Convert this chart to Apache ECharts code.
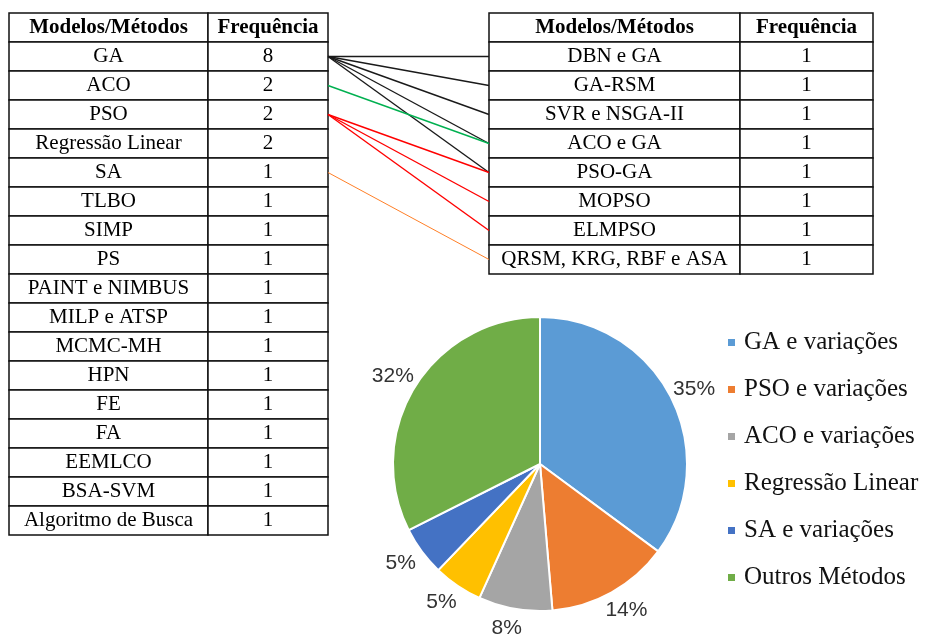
<!DOCTYPE html>
<html>
<head>
<meta charset="utf-8">
<script src="https://cdn.jsdelivr.net/npm/echarts@6/dist/echarts.min.js"></script>
<style>
  html, body { margin: 0; padding: 0; background: #fff; }
  #chart { width: 931px; height: 639px; }
</style>
</head>
<body>
<div id="chart"></div>
<script>
// cabeçalho das tabelas
var headers = ['Modelos/Métodos', 'Frequência']
// tabela da esquerda
var leftMethods = ['GA', 'ACO', 'PSO', 'Regressão Linear', 'SA', 'TLBO', 'SIMP', 'PS',
  'PAINT e NIMBUS', 'MILP e ATSP', 'MCMC-MH', 'HPN', 'FE', 'FA', 'EEMLCO', 'BSA-SVM',
  'Algoritmo de Busca']
var leftFreq = [8, 2, 2, 2, 1, 1, 1, 1, 1, 1, 1, 1, 1, 1, 1, 1, 1]
// tabela da direita
var rightMethods = ['DBN e GA', 'GA-RSM', 'SVR e NSGA-II', 'ACO e GA', 'PSO-GA', 'MOPSO',
  'ELMPSO', 'QRSM, KRG, RBF e ASA']
var rightFreq = [1, 1, 1, 1, 1, 1, 1, 1]
// ligações entre as tabelas
var linkFrom = ['GA', 'GA', 'GA', 'GA', 'GA', 'ACO', 'PSO', 'PSO', 'PSO', 'SA']
var linkTo = ['DBN e GA', 'GA-RSM', 'SVR e NSGA-II', 'ACO e GA', 'PSO-GA', 'ACO e GA',
  'PSO-GA', 'MOPSO', 'ELMPSO', 'QRSM, KRG, RBF e ASA']
var linkColors = ['#1a1a1a', '#1a1a1a', '#1a1a1a', '#1a1a1a', '#1a1a1a', '#00b050', '#ff0000', '#ff0000',
  '#ff0000', '#ff7f27']
// gráfico de pizza
var pieNames = ['GA e variações', 'PSO e variações', 'ACO e variações', 'Regressão Linear',
  'SA e variações', 'Outros Métodos']
var pieValues = [13, 5, 3, 2, 2, 12]
var pieColors = ['#5b9bd5', '#ed7d31', '#a5a5a5', '#ffc000', '#4472c4', '#70ad47']

// bordas das colunas (em px da grade)
var leftCols = [0, 199, 319]
var rightCols = [480, 731, 864]
var nRows = leftMethods.length + 1

var cells = []
function addTable (cols, methods, freq) {
  cells.push({ value: [cols[0], cols[1], 0], text: headers[0], bold: true })
  cells.push({ value: [cols[1], cols[2], 0], text: headers[1], bold: true })
  methods.forEach(function (m, i) {
    cells.push({ value: [cols[0], cols[1], i + 1], text: m, bold: false })
    cells.push({ value: [cols[1], cols[2], i + 1], text: String(freq[i]), bold: false })
  })
}
addTable(leftCols, leftMethods, leftFreq)
addTable(rightCols, rightMethods, rightFreq)

var linkData = linkFrom.map(function (f, i) {
  return {
    coords: [[leftCols[2], leftMethods.indexOf(f) + 1], [rightCols[0], rightMethods.indexOf(linkTo[i]) + 1]],
    lineStyle: { color: linkColors[i], width: linkColors[i] === '#ff7f27' ? 1 : 1.4, opacity: 1 }
  }
})

var total = pieValues.reduce(function (a, b) { return a + b }, 0)
var rowIdx = []
for (var r = 0; r < nRows; r++) rowIdx.push(r)

var myChart = echarts.init(document.getElementById('chart'))
myChart.setOption({
  backgroundColor: '#fff',
  animation: false,
  color: pieColors,
  grid: { left: 9, top: 13, width: 864, height: 522 },
  xAxis: { type: 'value', min: 0, max: 864, show: false },
  yAxis: { type: 'category', data: rowIdx, inverse: true, show: false },
  legend: {
    orient: 'vertical',
    left: 721,
    top: 325,
    icon: 'rect',
    itemWidth: 9,
    itemHeight: 9,
    itemGap: 22,
    textStyle: { fontFamily: 'Liberation Serif', fontSize: 25, lineHeight: 24, color: '#111', padding: [0, 0, 0, 3] },
    data: pieNames
  },
  series: [
    {
      type: 'custom',
      coordinateSystem: 'cartesian2d',
      data: cells.map(function (c) { return c.value }),
      renderItem: function (params, api) {
        var c = cells[params.dataIndex]
        var p0 = api.coord([api.value(0), api.value(2)])
        var p1 = api.coord([api.value(1), api.value(2)])
        var h = api.size([0, 1])[1]
        return {
          type: 'rect',
          shape: { x: p0[0], y: p0[1] - h / 2, width: p1[0] - p0[0], height: h },
          style: { fill: '#fff', stroke: '#111', lineWidth: 1.5 },
          textContent: {
            style: {
              text: c.text,
              fontFamily: 'Liberation Serif',
              fontSize: 21,
              fontWeight: c.bold ? 'bold' : 'normal',
              fill: '#000'
            }
          },
          textConfig: { position: 'inside' }
        }
      }
    },
    {
      type: 'lines',
      coordinateSystem: 'cartesian2d',
      polyline: false,
      symbol: 'none',
      lineStyle: { opacity: 1 },
      data: linkData
    },
    {
      type: 'pie',
      center: [540, 464],
      radius: 147,
      startAngle: 90,
      avoidLabelOverlap: false,
      itemStyle: { borderColor: '#fff', borderWidth: 2 },
      label: {
        position: 'outside',
        formatter: function (p) { return Math.round(p.value / total * 100) + '%' },
        fontFamily: 'Liberation Sans',
        fontSize: 21,
        color: '#333'
      },
      labelLine: { show: false, length: 20, length2: 0 },
      labelLayout: { align: 'center', verticalAlign: 'middle' },
      data: pieNames.map(function (n, i) { return { name: n, value: pieValues[i] } })
    }
  ]
})
window.addEventListener('resize', function () {
  myChart.resize()
})
</script>
</body>
</html>
